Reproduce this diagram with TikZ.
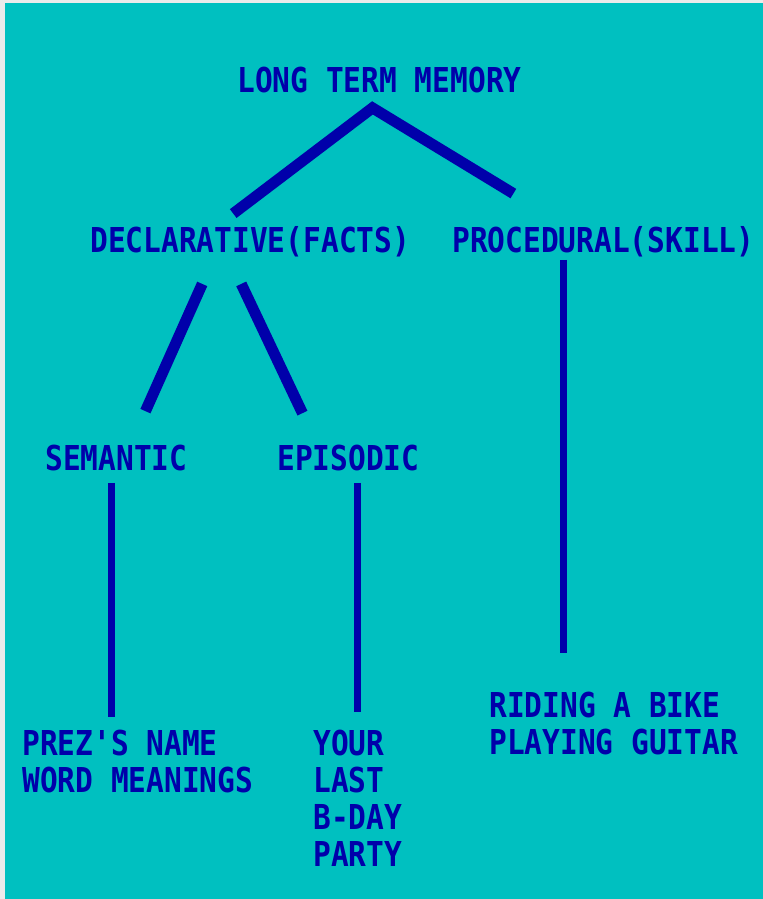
\documentclass[tikz,border=0pt]{standalone}
\usepackage{fontspec}
\usetikzlibrary{calc}
\newfontfamily\ecran{DejaVu Sans Mono}[FakeStretch=0.86]
\definecolor{fond}{RGB}{0,192,192}
\definecolor{encre}{RGB}{0,0,170}

\begin{document}
\begin{tikzpicture}[x=0.5pt,y=-0.5pt,
    titre/.style={anchor=base west,inner sep=0pt,text=encre,
      font=\ecran\bfseries\fontsize{17.15}{18.5}\selectfont},
    liste/.style={titre,anchor=north west,align=left},
    gros/.style={draw=encre,line width=5.5pt},
    fin/.style={draw=encre,line width=3.5pt}]
    % Fond de l'ecran
    \fill[white!92!black] (0,0) rectangle (763,899);
    \fill[fond] (5,3) rectangle (763,899);
    \useasboundingbox (0,0) rectangle (763,899);

    % Les titres de l'arbre
    \node[titre] (ltm) at (237,93) {LONG TERM MEMORY};
    \node[titre] (decl) at (90,252) {DECLARATIVE(FACTS)};
    \node[titre] (proc) at (452,252) {PROCEDURAL(SKILL)};
    \node[titre] (sem) at (45,470) {SEMANTIC};
    \node[titre] (epi) at (277,470) {EPISODIC};

    % Les exemples
    \node[liste] (prez) at (22,730) {PREZ'S NAME\\WORD MEANINGS};
    \node[liste] (your) at (313,730) {YOUR\\LAST\\B-DAY\\PARTY};
    \node[liste] (bike) at (489,692) {RIDING A BIKE\\PLAYING GUITAR};

    % Branches epaisses
    \draw[gros] ($(decl.north)+(-17,-12)$) -- ($(ltm.south)+(-7,14)$)
        -- ($(proc.north)+(-90,-32)$);
    \draw[gros] ($(decl.south)+(-48,27)$) -- ($(sem.north)+(29,-33)$);
    \draw[gros] ($(decl.south)+(-9,27)$) -- ($(epi.north)+(-46,-31)$);

    % Traits verticaux vers les exemples
    \coordinate (s) at ($(sem.south)+(-4.5,12)$);
    \coordinate (e) at ($(epi.south)+(9,12)$);
    \coordinate (p) at ($(proc.south)+(-40,3)$);
    \draw[fin] (s) -- (s |- {$(prez.north)+(0,-13)$});
    \draw[fin] (e) -- (e |- {$(your.north)+(0,-18)$});
    \draw[fin] (p) -- (p |- {$(bike.north)+(0,-39)$});
\end{tikzpicture}
\end{document}
